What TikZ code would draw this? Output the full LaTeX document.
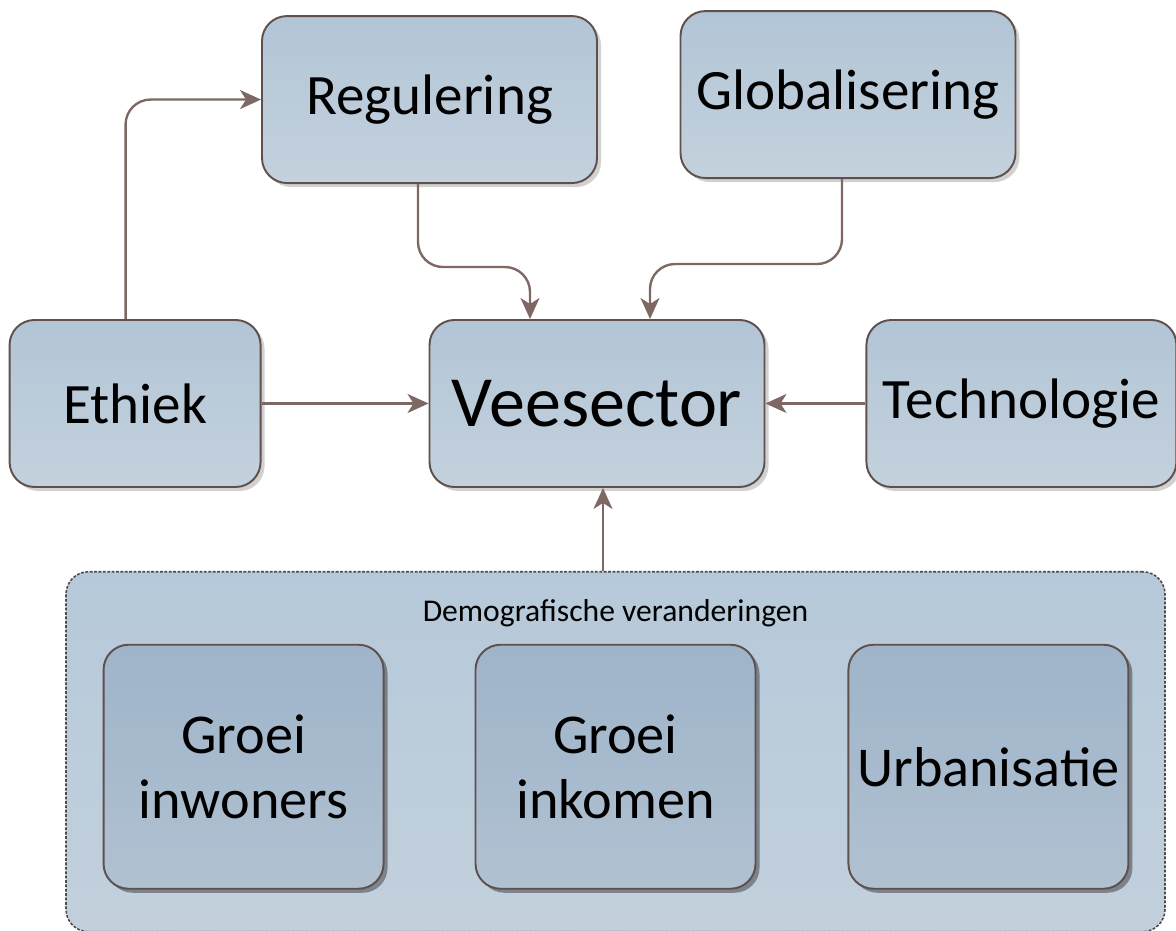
\documentclass[tikz,border=0pt]{standalone}
\usepackage{fontspec}
\setmainfont{Carlito}
\usepackage{xcolor}
\usepackage{tikz}
\usetikzlibrary{arrows.meta,positioning,shadows}

\definecolor{boxtop}{HTML}{B2C5D6}
\definecolor{boxbottom}{HTML}{C4D1DD}
\definecolor{innertop}{HTML}{9FB4CA}
\definecolor{innerbottom}{HTML}{B0C1D1}
\definecolor{grouptop}{HTML}{B6C9DA}
\definecolor{groupbottom}{HTML}{C3D0DC}
\definecolor{edgeline}{HTML}{5F504C}
\definecolor{flowline}{HTML}{7D6863}

\begin{document}
\begin{tikzpicture}[factor/.style={draw=edgeline, line width=1.1pt, rounded corners=0.5cm, top color=boxtop, bottom color=boxbottom, minimum width=6.7cm, minimum height=3.34cm, align=center, font=\fontsize{32.5}{37}\selectfont, drop shadow={shadow xshift=0.08cm, shadow yshift=-0.08cm, fill=black, opacity=0.18}},
    flow/.style={draw=flowline, line width=1.35pt, rounded corners=0.5cm, -{Stealth[length=0.42cm, width=0.38cm, inset=0.12cm]}}]
        \tikzstyle{inner} = [factor, font=\fontsize{32}{37}\selectfont, top color=innertop, bottom color=innerbottom, minimum width=5.6cm, minimum height=4.88cm, drop shadow={shadow xshift=0.08cm, shadow yshift=-0.08cm, fill=black, opacity=0.22}]
        \useasboundingbox (0,0) rectangle (23.52,18.62);

        % top row and middle row
        \node[factor, font=\fontsize{41}{48}\selectfont] (vee) at (11.94,10.55) {Veesector};
        \node[factor, minimum width=5.02cm, left = 3.34cm of vee] (ethiek) {Ethiek};
        \node[factor, minimum width=6.2cm, right = 2cm of vee] (tech) {Technologie};
        \node[factor, above = 2.7cm of vee, xshift=-3.35cm] (reg) {Regulering};
        \node[factor, above = 2.8cm of vee, xshift=5.02cm] (glob) {Globalisering};

        % demografische groep
        \node[draw=black!70, line width=0.9pt, dash pattern=on 1.6pt off 0.9pt, rounded corners=0.45cm, top color=grouptop, bottom color=groupbottom, minimum width=21.98cm, minimum height=7.2cm, below = 1.66cm of vee, xshift=0.37cm] (demo) {};
        \node[font=\fontsize{18}{21}\selectfont] (demolabel) at ([yshift=-0.84cm]demo.north) {Demografische veranderingen};
        \node[inner] (inkomen) at ([yshift=-0.3cm]demo.center) {Groei\\inkomen};
        \node[inner, left = 1.8cm of inkomen] (inwoners) {Groei\\inwoners};
        \node[inner, right = 1.82cm of inkomen] (urban) {Urbanisatie};

        \draw[flow] ([xshift=-0.19cm]ethiek.north) |- (reg.west);
        \draw[flow] ([xshift=-0.23cm]reg.south) -- ++(0,-1.66) -| ([xshift=-1.34cm]vee.north);
        \draw[flow] ([xshift=-0.12cm]glob.south) -- ++(0,-1.7) -| ([xshift=1.06cm]vee.north);
        \draw[flow] (ethiek) -- (vee);
        \draw[flow] (tech) -- (vee);
        \draw[flow] ([xshift=0.12cm]vee.south |- demo.north) -- ([xshift=0.12cm]vee.south);
\end{tikzpicture}
\end{document}
